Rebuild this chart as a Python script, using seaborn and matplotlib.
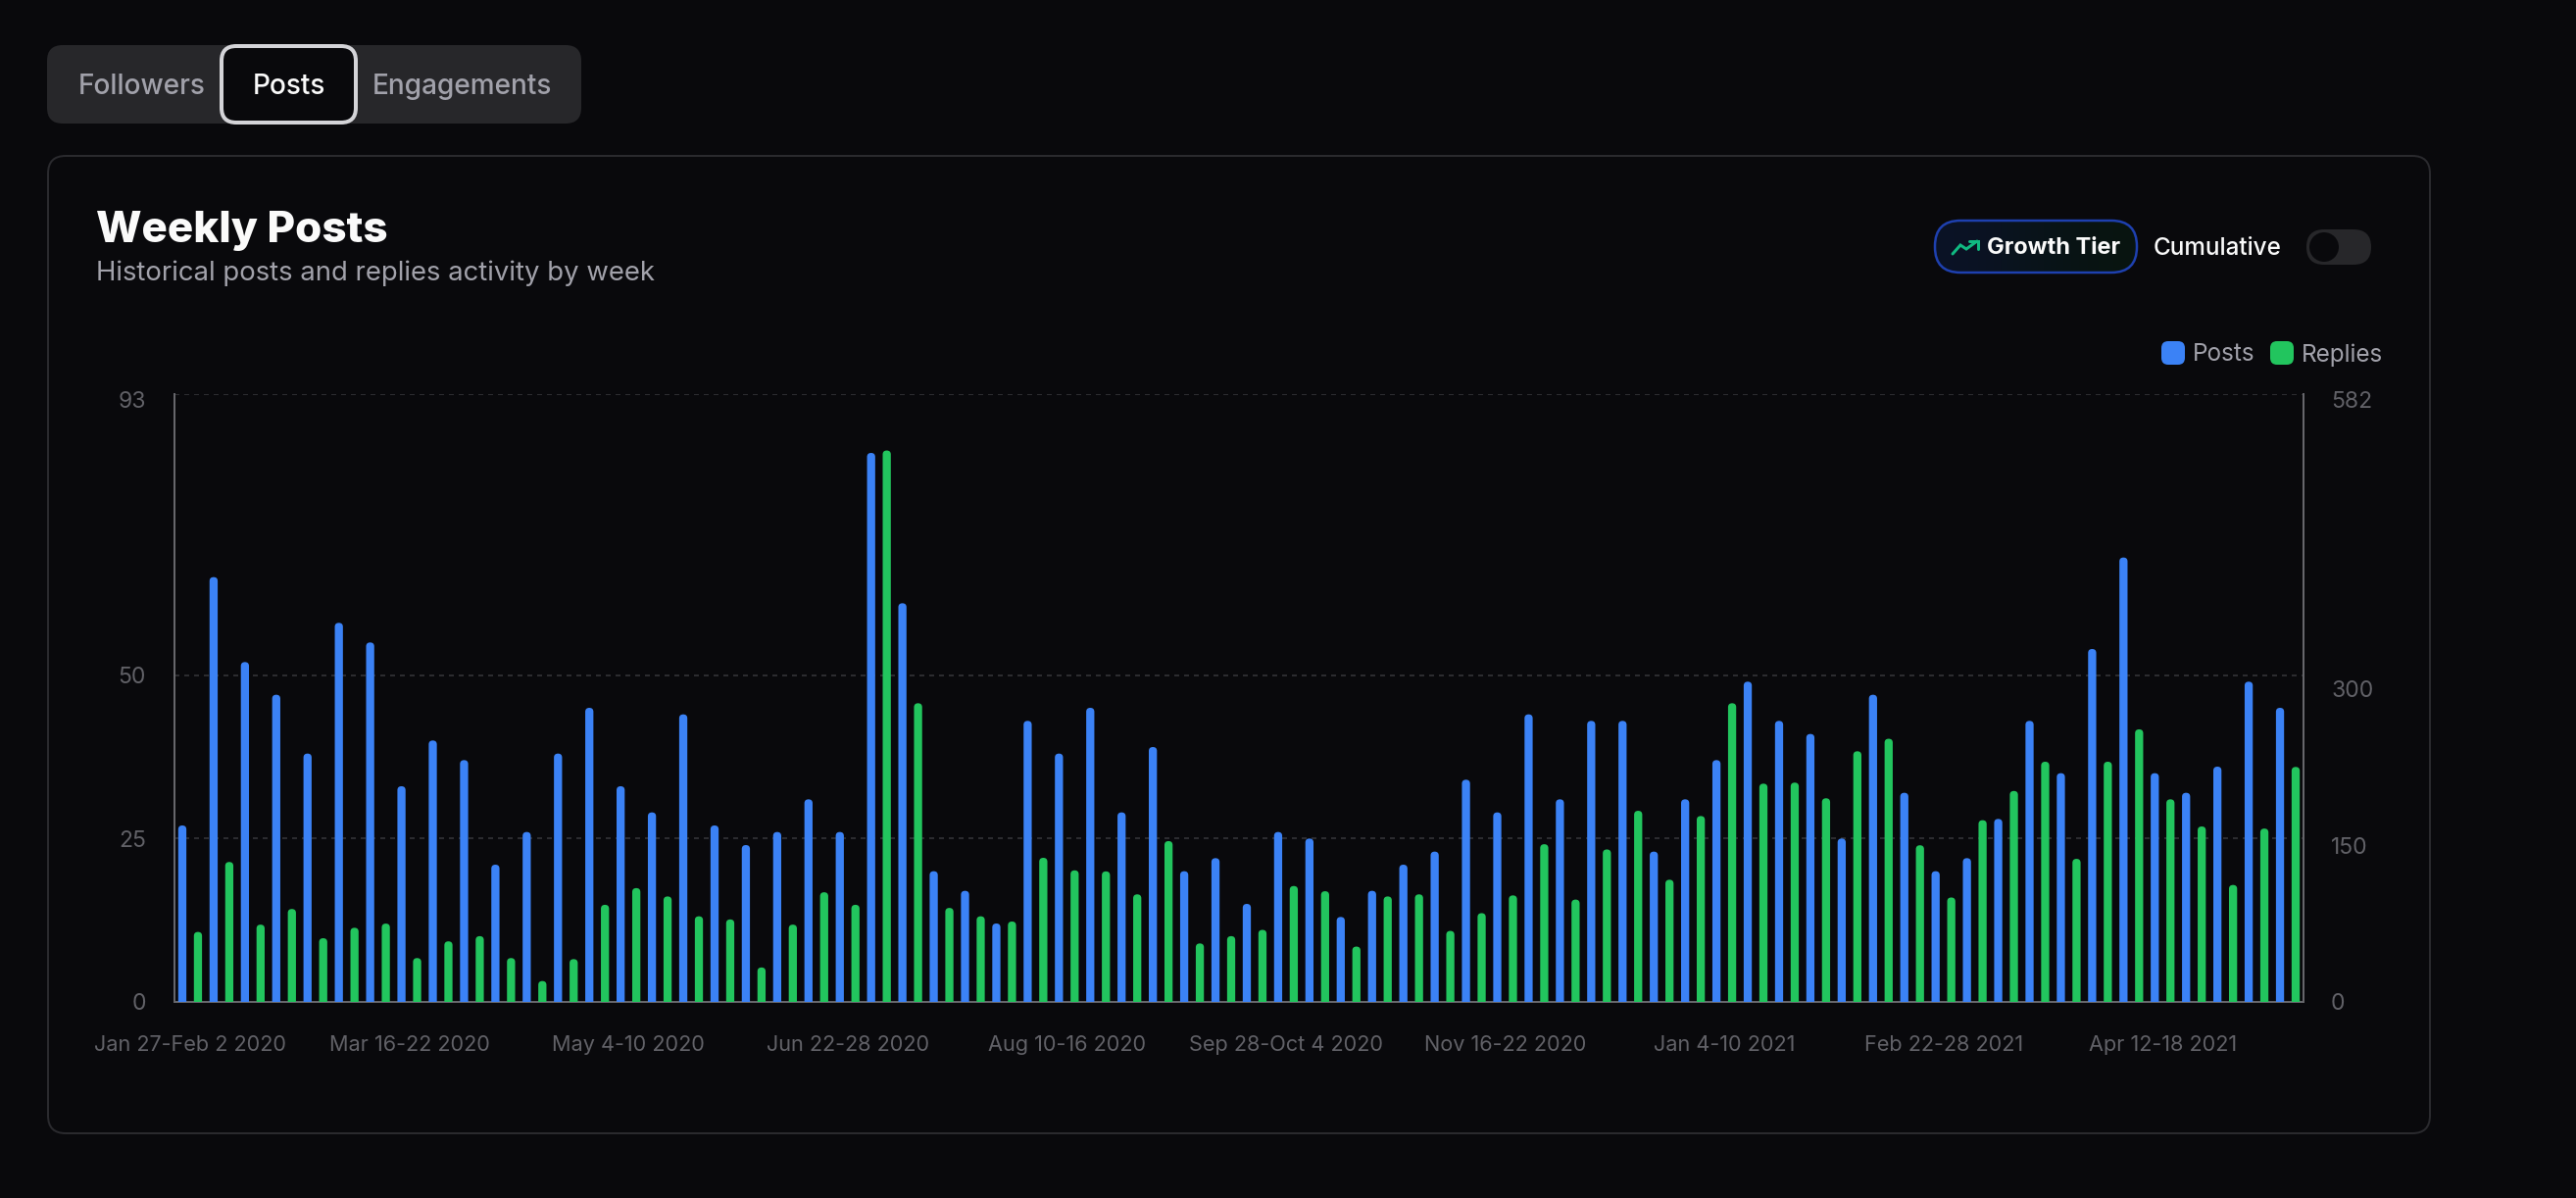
import matplotlib
matplotlib.use('Agg')
import matplotlib.pyplot as plt
import numpy as np
import pandas as pd
import seaborn as sns
from matplotlib.patches import FancyBboxPatch, PathPatch, Circle
from matplotlib.path import Path
from matplotlib.transforms import ScaledTranslation

# Values
posts = [27, 65, 52, 47, 38, 58, 55, 33, 40, 37, 21, 26, 38, 45, 33, 29, 44, 27, 24, 26, 31, 26,
         84, 61, 20, 17, 12, 43, 38, 45, 29, 39, 20, 22, 15, 26, 25, 13, 17, 21, 23, 34, 29, 44,
         31, 43, 43, 23, 31, 37, 49, 43, 41, 25, 47, 32, 20, 22, 28, 43, 35, 54, 68, 35, 32, 36,
         49, 45]
replies = [67, 134, 74, 89, 61, 71, 75, 42, 58, 63, 42, 20, 41, 93, 109, 101, 82, 79, 33, 74, 105, 93,
           528, 286, 90, 82, 77, 138, 126, 125, 103, 154, 56, 63, 69, 111, 106, 53, 101, 103, 68, 85,
           102, 151, 98, 146, 183, 117, 178, 286, 209, 210, 195, 240, 252, 150, 100, 174, 202, 230,
           137, 230, 261, 194, 168, 112, 166, 225]
week_labels = ['Jan 27-Feb 2 2020', 'Mar 16-22 2020', 'May 4-10 2020', 'Jun 22-28 2020', 'Aug 10-16 2020',
               'Sep 28-Oct 4 2020', 'Nov 16-22 2020', 'Jan 4-10 2021', 'Feb 22-28 2021', 'Apr 12-18 2021']
left_ticks = [0, 25, 50, 93]
right_ticks = [0, 150, 300, 582]
series_names = ['Posts', 'Replies']

BG = '#09090c'
BLUE = '#3b82f6'
GREEN = '#22c55e'
MUTED = '#a1a1aa'
TICK = '#616167'
PANEL = '#27272a'
DPI = 200


def px(v):
    # pixels to points at the save dpi
    return v * 72 / DPI


def rbox(axc, x0, y0, x1, y1, r, **kw):
    box = FancyBboxPatch((x0 + r, y0 + r), x1 - x0 - 2 * r, y1 - y0 - 2 * r,
                         boxstyle='round,pad=%s,rounding_size=%s' % (r, r), **kw)
    axc.add_patch(box)
    return box


def round_tops(axis, top, color):
    # swap the square bars for ones with a round cap
    ry = 4 * top / 620
    for bar in list(axis.patches):
        if bar.get_height() <= 0:
            continue
        x0, w, h = bar.get_x(), bar.get_width(), bar.get_height()
        x1 = x0 + w
        xm = x0 + w / 2
        verts = [(x0, 0), (x0, h - ry), (x0, h), (xm, h), (x1, h), (x1, h - ry), (x1, 0), (x0, 0)]
        codes = [Path.MOVETO, Path.LINETO, Path.CURVE3, Path.CURVE3, Path.CURVE3, Path.CURVE3,
                 Path.LINETO, Path.CLOSEPOLY]
        axis.add_patch(PathPatch(Path(verts, codes), facecolor=color, edgecolor='none', zorder=3))
        bar.set_visible(False)


sns.set_theme(style='dark')
plt.rcParams['font.family'] = ['Inter', 'DejaVu Sans']

fig = plt.figure(figsize=(13.14, 6.11), dpi=DPI, facecolor=BG)

# page furniture, in pixel coordinates
ui = fig.add_axes([0, 0, 1, 1], zorder=0)
ui.set_xlim(0, 2628)
ui.set_ylim(1222, 0)
ui.axis('off')

rbox(ui, 48, 46, 593, 126, 16, facecolor=PANEL, edgecolor='none')
rbox(ui, 226, 47, 363, 125, 15, facecolor=BG, edgecolor='#d4d4d8', linewidth=px(4))
ui.text(144.5, 88, 'Followers', color=MUTED, fontsize=px(28), fontweight='medium', ha='center', va='center')
ui.text(294.5, 88, 'Posts', color='#fafafa', fontsize=px(28), fontweight='medium', ha='center', va='center')
ui.text(471, 88, 'Engagements', color=MUTED, fontsize=px(28), fontweight='medium', ha='center', va='center')

rbox(ui, 49, 159, 2479, 1156, 18, facecolor=BG, edgecolor='#2a2a2e', linewidth=px(2))
ui.text(98, 235, 'Weekly Posts', color='#fafafa', fontsize=px(44), fontweight='heavy', va='center')
ui.text(98, 279, 'Historical posts and replies activity by week', color=MUTED, fontsize=px(27.5), va='center')

# growth tier pill with its faint gradient
pill = rbox(ui, 1974, 225, 2180, 278, 26, facecolor='none', edgecolor='#1e40af', linewidth=px(2.5), zorder=3)
grad = np.array([[[11, 18, 38], [9, 20, 26], [8, 20, 16]]], dtype=np.uint8)
img = ui.imshow(grad, extent=(1974, 2180, 278, 225), aspect='auto', interpolation='bicubic', zorder=2)
img.set_clip_path(pill)
ui.set_xlim(0, 2628)
ui.set_ylim(1222, 0)
ui.plot([1992, 2000, 2006, 2017], [259, 250, 254, 246], color='#10b981', lw=px(3), solid_joinstyle='miter', zorder=4)
ui.plot([2009, 2018, 2018], [246, 246, 254], color='#10b981', lw=px(3), solid_joinstyle='miter', zorder=4)
ui.text(2027, 253, 'Growth Tier', color='#fafafa', fontsize=px(23.5), fontweight='bold', va='center', zorder=4)
ui.text(2197, 253, 'Cumulative', color='#fafafa', fontsize=px(24.3), fontweight='medium', va='center')

rbox(ui, 2353, 234, 2419, 270, 18, facecolor=PANEL, edgecolor='none')
ui.add_patch(Circle((2371, 252), 15, facecolor=BG, edgecolor='none'))

rbox(ui, 2205, 348, 2229, 372, 7, facecolor=BLUE, edgecolor='none')
ui.text(2237, 362, 'Posts', color=MUTED, fontsize=px(24.3), va='center')
rbox(ui, 2316, 348, 2340, 372, 7, facecolor=GREEN, edgecolor='none')
ui.text(2348, 362, 'Replies', color=MUTED, fontsize=px(24.3), va='center')

# chart
W, H = 2628, 1222
ax = fig.add_axes([178 / W, 1 - 1022 / H, (2350 - 178) / W, (1022 - 402) / H], zorder=1)
ax.patch.set_alpha(0)
ax2 = ax.twinx()
ax2.patch.set_alpha(0)

weeks = np.arange(len(posts))
df_posts = pd.DataFrame({'week': weeks, 'value': posts, 'series': 'Posts'})
df_replies = pd.DataFrame({'week': weeks, 'value': replies, 'series': 'Replies'})
palette = dict(zip(series_names, [BLUE, GREEN]))

sns.barplot(data=df_posts, x='week', y='value', hue='series', hue_order=series_names, palette=palette,
            width=1, gap=0.48, dodge=True, saturation=1, legend=False, errorbar=None, ax=ax)
sns.barplot(data=df_replies, x='week', y='value', hue='series', hue_order=series_names, palette=palette,
            width=1, gap=0.48, dodge=True, saturation=1, legend=False, errorbar=None, ax=ax2)

ax.set_ylim(0, 93)
ax2.set_ylim(0, 582)
ax.set_xlim(-0.5, len(posts) - 0.5)
round_tops(ax, 93, BLUE)
round_tops(ax2, 582, GREEN)

ax.set_yticks(left_ticks)
ax2.set_yticks(right_ticks)
ax.set_xticks(weeks[::7])
ax.set_xticklabels(week_labels)
ax.set_xlabel('')
ax.set_ylabel('')
ax2.set_xlabel('')
ax2.set_ylabel('')

ax.tick_params(axis='x', length=0, labelsize=px(21.7), labelcolor=TICK, pad=px(34))
ax.tick_params(axis='y', length=0, labelsize=px(23), labelcolor=TICK, pad=px(29))
ax2.tick_params(axis='y', length=0, labelsize=px(23), labelcolor=TICK, pad=px(28))

ax.set_axisbelow(True)
ax.grid(True, axis='y', color='#2c2c30', linewidth=px(2), linestyle=(0, (2.5, 2.5)))
ax.grid(False, axis='x')
ax2.grid(False)

for axis in (ax, ax2):
    for name, spine in axis.spines.items():
        spine.set_visible(False)
ax.spines['left'].set_visible(True)
ax.spines['bottom'].set_visible(True)
ax2.spines['right'].set_visible(True)
for spine in (ax.spines['left'], ax.spines['bottom'], ax2.spines['right']):
    spine.set_color('#66666b')
    spine.set_linewidth(px(2))

# the top labels sit a little under the top line
shift = ScaledTranslation(0, -6 / DPI, fig.dpi_scale_trans)
for label in (ax.get_yticklabels()[-1], ax2.get_yticklabels()[-1]):
    label.set_transform(label.get_transform() + shift)

fig.savefig('out.png', dpi=DPI, facecolor=BG)
